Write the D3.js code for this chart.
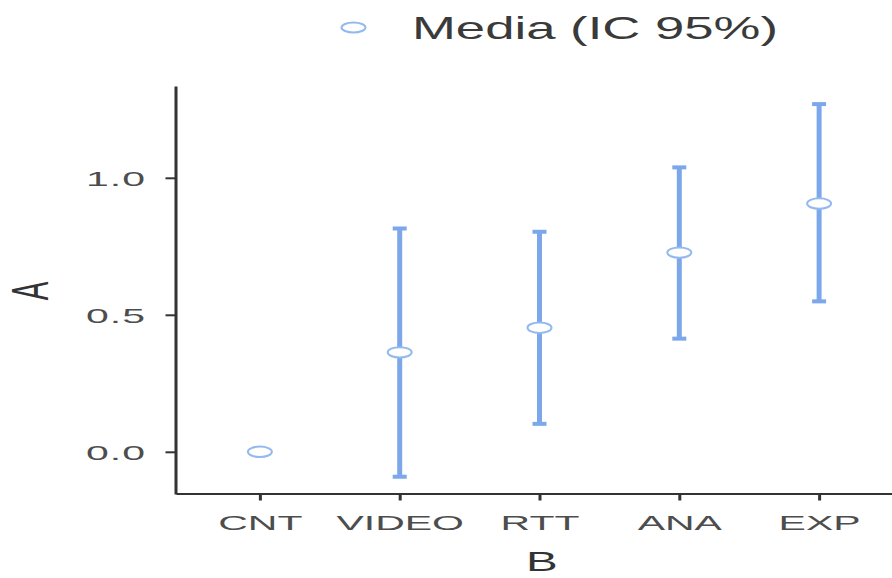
<!DOCTYPE html>
<html><head><meta charset="utf-8">
<script src="https://cdn.jsdelivr.net/npm/d3@7"></script>
<style>body{margin:0;background:#fff}svg{display:block}</style>
</head><body>
<script>
const categories = ["CNT", "VIDEO", "RTT", "ANA", "EXP"];
const means = [0, 0.363, 0.453, 0.727, 0.906];
const lower = [null, -0.091, 0.102, 0.413, 0.549];
const upper = [null, 0.815, 0.803, 1.038, 1.269];
const yTicks = [0, 0.5, 1.0];
const xTitle = "B";
const yTitle = "A";
const legendLabel = "Media (IC 95%)";

const W = 892, H = 578;
const FONT = "'Liberation Sans', Arial, Helvetica, sans-serif";
const barColor = "#7ca8eb", ptColor = "#93b9ef";

const svg = d3.select("body").append("svg").attr("width", W).attr("height", H)
  .style("font-family", FONT);

const x = d3.scalePoint().domain(categories).range([176, 903]).padding(0.6);
const y = d3.scaleLinear().domain([-0.154, 1.335]).range([494, 86]);

const data = categories.map((c, i) => ({c, m: means[i], lo: lower[i], hi: upper[i]}));

// Y axis
const sxTick = 2.05;
const gy = svg.append("g").attr("transform", "translate(175.5,0)")
  .call(d3.axisLeft(y).tickValues(yTicks).tickFormat(d3.format(".1f")).tickSize(10).tickSizeOuter(0));
gy.select(".domain").attr("stroke", "#333").attr("stroke-width", 3);
gy.selectAll(".tick line").attr("stroke", "#333").attr("stroke-width", 2);
gy.selectAll(".tick text").attr("fill", "#4d4d4d").style("font-size", "20px").style("font-family", FONT)
  .style("letter-spacing", "0.5px")
  .attr("x", -29.5 / sxTick).attr("dy", "0.36em").attr("transform", `scale(${sxTick},1)`);

// X axis
const gx = svg.append("g").attr("transform", "translate(0,493.5)")
  .call(d3.axisBottom(x).tickSize(7).tickSizeOuter(0));
gx.select(".domain").attr("stroke", "#333").attr("stroke-width", 2);
gx.selectAll(".tick line").attr("stroke", "#333").attr("stroke-width", 3);
gx.selectAll(".tick text").attr("fill", "#4d4d4d").style("font-size", "20px").style("font-family", FONT)
  .attr("y", 37).attr("dy", 0).attr("transform", `scale(${sxTick},1)`);

// Error bars
const eb = svg.append("g").selectAll("g").data(data.filter(d => d.lo !== null)).join("g");
eb.append("line").attr("x1", d => x(d.c)).attr("x2", d => x(d.c))
  .attr("y1", d => y(d.lo)).attr("y2", d => y(d.hi))
  .attr("stroke", barColor).attr("stroke-width", 5);
eb.append("line").attr("x1", d => x(d.c) - 7).attr("x2", d => x(d.c) + 7)
  .attr("y1", d => y(d.hi)).attr("y2", d => y(d.hi))
  .attr("stroke", barColor).attr("stroke-width", 4);
eb.append("line").attr("x1", d => x(d.c) - 7).attr("x2", d => x(d.c) + 7)
  .attr("y1", d => y(d.lo)).attr("y2", d => y(d.lo))
  .attr("stroke", barColor).attr("stroke-width", 4);

// Points
svg.append("g").selectAll("ellipse").data(data).join("ellipse")
  .attr("cx", d => x(d.c)).attr("cy", d => y(d.m))
  .attr("rx", 12).attr("ry", 5.2)
  .attr("fill", "#fff").attr("stroke", ptColor).attr("stroke-width", 2);

// Axis titles
const sxT = 1.7;
svg.append("text").text(xTitle)
  .attr("x", 542 / sxT).attr("y", 571.5).attr("text-anchor", "middle")
  .attr("transform", `scale(${sxT},1)`)
  .style("font-size", "28px").attr("fill", "#333");
svg.append("text").text(yTitle)
  .attr("transform", `translate(48,291) scale(1.85,1) rotate(-90)`)
  .attr("text-anchor", "middle")
  .style("font-size", "28px").attr("fill", "#333");

// Legend
svg.append("ellipse").attr("cx", 353.5).attr("cy", 27.5).attr("rx", 12).attr("ry", 5)
  .attr("fill", "#fff").attr("stroke", ptColor).attr("stroke-width", 2);
svg.append("text").text(legendLabel)
  .attr("x", 412 / 1.7).attr("y", 39)
  .attr("transform", "scale(1.7,1)")
  .style("font-size", "31px").attr("fill", "#3a3a3a");
</script>
</body></html>
